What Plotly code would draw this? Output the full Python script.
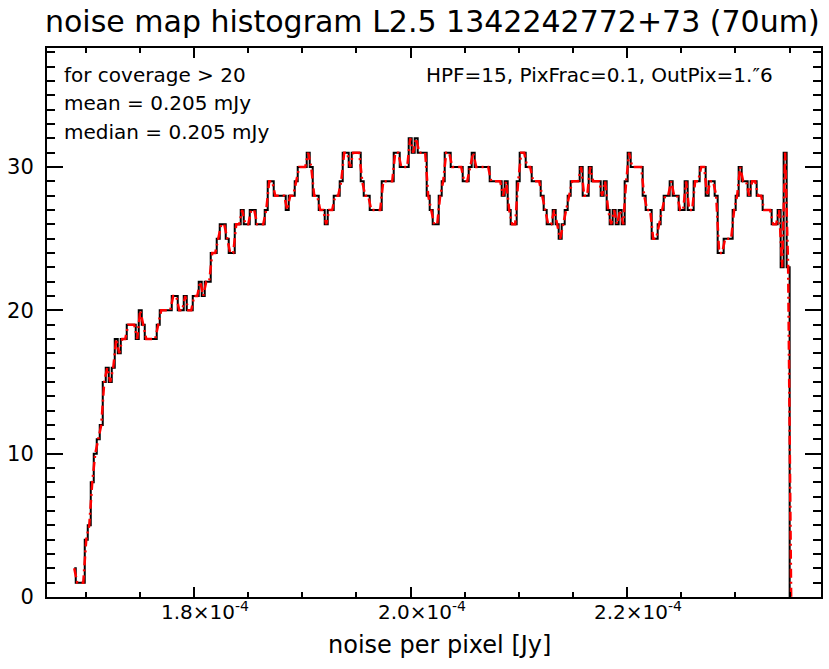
import numpy as np
import plotly.graph_objects as go

# Histogram of the per-pixel noise map (coverage > 20), one count per bin
bin_start = 1.689493e-4      # centre of the first bin [Jy]
bin_size = 2.7696e-7         # bin width [Jy]
counts = [
    2,
    1, 1, 1, 4, 5, 8, 10, 11, 12, 15,
    16, 15, 16, 18, 17, 18, 18, 19, 19, 19,
    18, 20, 19, 18, 18, 18, 18, 19, 20, 20,
    20, 20, 21, 21, 20, 20, 21, 20, 20, 21,
    21, 22, 21, 22, 22, 24, 24, 25, 26, 26,
    25, 24, 24, 26, 26, 27, 26, 26, 27, 27,
    26, 26, 26, 27, 29, 29, 28, 28, 28, 28,
    27, 28, 28, 29, 30, 30, 30, 31, 30, 28,
    28, 27, 27, 26, 27, 27, 28, 28, 29, 31,
    31, 30, 31, 31, 31, 29, 28, 28, 27, 27,
    27, 27, 29, 29, 29, 29, 31, 31, 30, 30,
    30, 32, 31, 32, 31, 31, 31, 28, 27, 26,
    26, 28, 29, 31, 31, 30, 30, 30, 30, 29,
    29, 30, 31, 30, 30, 30, 30, 30, 29, 29,
    29, 29, 28, 29, 27, 26, 26, 29, 31, 31,
    30, 30, 29, 29, 29, 28, 27, 26, 26, 27,
    26, 25, 26, 27, 28, 29, 29, 29, 30, 28,
    28, 30, 29, 29, 29, 28, 29, 27, 26, 27,
    26, 27, 26, 29, 31, 30, 30, 30, 30, 28,
    27, 27, 25, 25, 26, 27, 28, 28, 29, 28,
    28, 27, 27, 29, 27, 27, 29, 29, 30, 30,
    28, 29, 29, 28, 24, 24, 25, 25, 25, 27,
    28, 30, 29, 29, 28, 29, 29, 28, 28, 27,
    27, 27, 26, 26, 27, 23, 31, 23, 0,
]
bin_centres = bin_start + bin_size * np.arange(len(counts))

x_range = [1.66433e-4, 2.37899e-4]
y_range = [0, 38.3]
x_major = [1.8e-4, 2.0e-4, 2.2e-4]
x_major_text = ["1.8×10<sup>-4</sup>", "2.0×10<sup>-4</sup>", "2.2×10<sup>-4</sup>"]
y_major = [0, 10, 20, 30]

title_text = "noise map histogram L2.5 1342242772+73 (70um)"
x_title = "noise per pixel [Jy]"
stats_lines = ["for coverage > 20", "mean = 0.205 mJy", "median = 0.205 mJy"]
params_text = "HPF=15, PixFrac=0.1, OutPix=1.\u20336"

FONT = "DejaVu Sans"

# plot-area geometry in pixels (used to place the free text)
L, R, T, B = 47.3, 822.7, 48.3, 596.7


def px_x(px):
    return (px - L) / (R - L)


def px_y(py):
    return 1 - (py - T) / (B - T)


fig = go.Figure()
# stepped histogram (bin-centred steps)
fig.add_trace(go.Scatter(
    x=bin_centres, y=counts, mode="lines",
    line=dict(color="black", width=2, shape="hvh"),
    showlegend=False, hoverinfo="skip",
))
# same counts joined point to point, dash-dot
fig.add_trace(go.Scatter(
    x=bin_centres, y=counts, mode="lines",
    line=dict(color="#ff0000", width=2.5, dash="9px,4px,2px,4px"),
    showlegend=False, hoverinfo="skip",
))

axis_common = dict(
    showline=True, linecolor="black", linewidth=2, mirror="allticks",
    ticks="inside", tickcolor="black", tickwidth=2,
    showgrid=False, zeroline=False,
)

fig.update_xaxes(
    range=x_range, tickmode="array", tickvals=x_major,
    showticklabels=False, ticklen=10,
    minor=dict(ticks="inside", ticklen=5, tickwidth=2, tickcolor="black",
               dtick=5e-6, tick0=0, showgrid=False),
    **axis_common,
)
fig.update_yaxes(
    range=y_range, tickmode="array", tickvals=y_major,
    ticklen=16, ticklabelstandoff=7,
    tickfont=dict(family=FONT, size=21, color="black"),
    minor=dict(ticks="inside", ticklen=8, tickwidth=2, tickcolor="black",
               dtick=1, tick0=0, showgrid=False),
    **axis_common,
)

annotations = [dict(
    text=title_text, xref="paper", yref="paper", x=px_x(433), y=px_y(22),
    xanchor="center", yanchor="middle", showarrow=False,
    font=dict(family=FONT, size=30, color="black"),
)]
# x tick labels
for xv, txt in zip(x_major, x_major_text):
    annotations.append(dict(
        text=txt, xref="x", yref="paper", x=xv, y=px_y(611),
        xanchor="center", yanchor="middle", xshift=11, showarrow=False,
        font=dict(family=FONT, size=20, color="black"),
    ))
# x axis title
annotations.append(dict(
    text=x_title, xref="paper", yref="paper", x=px_x(441), y=px_y(645),
    xanchor="center", yanchor="middle", showarrow=False,
    font=dict(family=FONT, size=24, color="black"),
))
for k, line in enumerate(stats_lines):
    annotations.append(dict(
        text=line, xref="paper", yref="paper",
        x=px_x(62), y=px_y(75 + 28.4 * k),
        xanchor="left", yanchor="middle", showarrow=False,
        font=dict(family=FONT, size=20, color="black"),
    ))
annotations.append(dict(
    text=params_text, xref="paper", yref="paper",
    x=px_x(425), y=px_y(75),
    xanchor="left", yanchor="middle", showarrow=False,
    font=dict(family=FONT, size=20, color="black"),
))

fig.update_layout(
    width=829, height=669,
    margin=dict(l=47, r=6, t=48, b=72),
    paper_bgcolor="white", plot_bgcolor="white",
    annotations=annotations,
    font=dict(family=FONT, color="black"),
)

fig.write_html("out.html")
